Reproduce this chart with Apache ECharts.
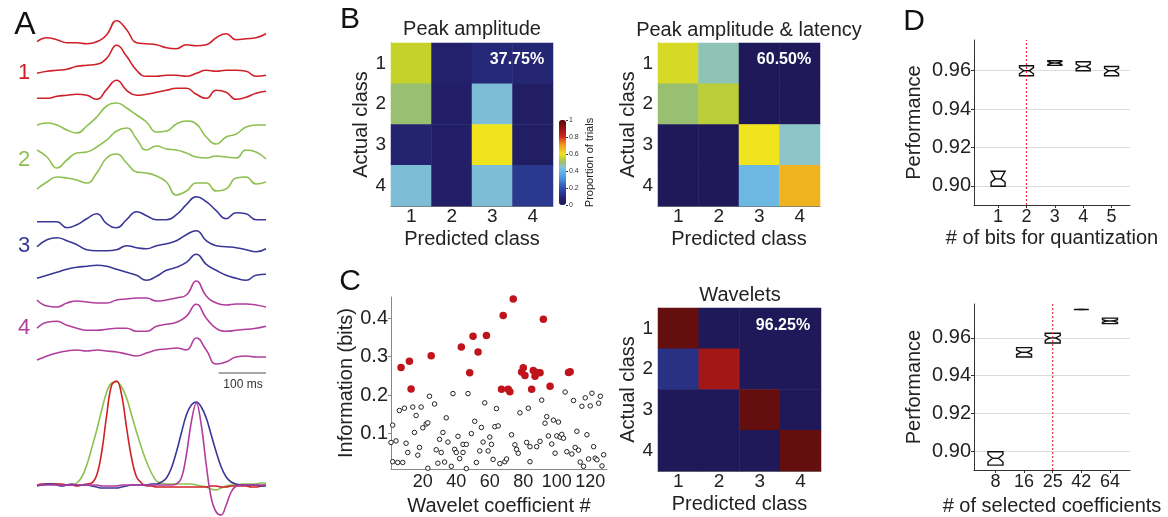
<!DOCTYPE html>
<html>
<head>
<meta charset="utf-8">
<script src="https://cdn.jsdelivr.net/npm/echarts@6/dist/echarts.min.js"></script>
<style>
html,body{margin:0;padding:0;background:#fff}
#fig{width:1168px;height:517px}
</style>
</head>
<body>
<div id="fig"></div>
<script>
// ---- A: single trials (deflection per sample) ----
var traceTimes = [0,21,42,63,84,105,126,147,168,189,210,231,252,273,294,315,336,357,378,399,420,441,462,483];
var red1   = [0,4,2,-1,-1,-2,0,7,21,12,-1,-2,-3,-6,-7,-3,-4,-3,4,8,2,3,4,8];
var red2   = [0,2,3,4,7,8,9,15,28,17,3,-3,-3,-2,-2,-3,0,3,2,3,3,2,-3,-2];
var red3   = [0,0,2,3,4,3,-1,9,18,8,3,4,6,8,10,10,4,0,8,6,-1,1,5,7];
var green1 = [0,2,0,-5,-8,-1,8,19,22,17,10,3,-7,-6,1,4,1,-12,-19,-12,-9,-2,0,0];
var green2 = [0,-7,-18,-10,-3,-2,3,10,19,22,11,0,4,1,0,-3,-7,-8,-6,-7,-8,0,-2,-9];
var green3 = [0,7,12,11,9,6,16,31,35,26,17,16,13,7,-6,-2,6,6,-2,0,11,12,5,7];
var blue1  = [0,0,0,-6,-3,3,8,-2,-6,2,10,6,2,2,7,17,25,20,11,3,9,8,2,2];
var blue2  = [0,7,9,6,2,-3,-4,-4,-3,1,-1,-2,1,3,6,12,16,6,1,0,-1,-3,-5,-2];
var blue3  = [0,3,6,9,11,12,13,12,9,6,3,-2,2,8,11,16,24,14,8,3,0,-2,3,4];
var mag1   = [0,-6,-7,-3,-1,-2,-3,-3,0,1,2,2,-1,0,2,5,19,4,-3,-5,-4,-4,-5,-7];
var mag2   = [0,6,7,3,0,-2,-2,-1,0,0,-3,-3,2,4,6,12,24,10,0,-3,-2,-1,0,2];
var mag3   = [0,4,7,9,10,9,10,9,8,6,4,7,10,11,12,10,22,10,-4,-2,3,4,3,3];

// ---- A: class averages ----
var avgTimes = [0,10.5,21,31.5,42,52.5,63,73.5,84,94.5,105,115.5,126,136.5,147,157.5,168,178.5,189,199.5,
  210,220.5,231,241.5,252,262.5,273,283.5,294,304.5,315,325.5,336,346.5,357,367.5,378,388.5,399,409.5,
  420,430.5,441,451.5,462,472.5,483];
var avgRed   = [0,1,1,1,1,1,0,0,-1,0,1, 2,10,33,70,100,104,90,57,27,8,2,
  -1,-1,-2,-2,-2,-2,-2,-2,-2,-2,-2,-2,-2,-1,-1,-2,-2,-1,-1,-1,-1,-2,-2,-1,0];
var avgGreen = [0,0,1,1,1,0,0,0, 2,8,20,37,55,75,93,102,103,98,87,70,53,37,23,12,4,2,
  1,1,1,1,1,1,0,-1,-2,-4,-5,-3,-1,0,0,1,1,1,1,2,2];
var avgBlue  = [-1,0,1,1,0,-1,0,1,0,0,0,-1,-2,-3,-3,-3,-3,-2,-1,0,0,0,0,1,
  1,3,7,17,33,52,70,80,83,78,67,50,33,18,8,3,1, 0,0,0,0,-1,-1];
var avgMag   = [0,0,0,0,0,0,0,0,0,0,0,0,0,-1,-1,-1,-1,0,0,0,0,0,0,0,0,0,0,0,
  1,7,30,63,82,60,20,-13,-27,-30,-20,-7,-1, 0,0,0,0,0,0];
var scaleBarMs = 100;

// ---- B / C: confusion matrices (rows: actual, cols: predicted) ----
var classes = ['1','2','3','4'];
var ampMatrix    = [[0.55,0.06,0.09,0.08],[0.50,0.05,0.43,0.04],[0.07,0.05,0.60,0.04],[0.43,0.05,0.43,0.14]];
var ampLatMatrix = [[0.57,0.46,0.01,0.01],[0.50,0.54,0.01,0.01],[0.01,0.01,0.60,0.45],[0.01,0.01,0.41,0.67]];
var waveMatrix   = [[0.98,0.01,0.01,0.01],[0.12,0.88,0.01,0.01],[0.01,0.01,0.98,0.01],[0.01,0.01,0.01,0.98]];
var accuracy = ['37.75%','60.50%','96.25%'];

// ---- C: information per wavelet coefficient ----
var selectedCoef = [[7,0.272],[12,0.288],[13,0.216],[25,0.302],[43,0.325],[48,0.258],[50,0.353],[53,0.312],
  [58,0.355],[67,0.215],[68,0.407],[71,0.215],[72,0.209],[74,0.45],[79,0.26],[80,0.271],[81,0.251],[85,0.215],
  [86,0.264],[87,0.249],[88,0.259],[90,0.258],[92,0.397],[96,0.223],[107,0.259],[108,0.261]];
var otherCoef = [[1,0.077],[2,0.122],[4,0.081],[2,0.027],[5,0.025],[8,0.025],[6,0.160],[9,0.166],[10,0.075],
  [11,0.051],[14,0.169],[15,0.103],[16,0.147],[17,0.044],[18,0.064],[19,0.169],[20,0.115],[22,0.125],[23,0.128],
  [23,0.01],[24,0.197],[27,0.177],[28,0.058],[29,0.023],[30,0.085],[31,0.051],[32,0.103],[33,0.026],[34,0.141],
  [35,0.078],[37,0.015],[38,0.204],[39,0.059],[40,0.051],[41,0.093],[42,0.035],[44,0.072],[44,0.051],[46,0.072],
  [46,0.009],[47,0.204],[49,0.1],[51,0.132],[52,0.025],[54,0.055],[55,0.116],[56,0.078],[57,0.180],[59,0.055],
  [61,0.072],[60,0.091],[63,0.118],[65,0.120],[64,0.165],[62,0.033],[66,0.022],[69,0.027],[70,0.034],[73,0.097],
  [75,0.071],[76,0.059],[77,0.049],[78,0.154],[82,0.077],[83,0.166],[84,0.066],[84,0.027],[88,0.066],[90,0.080],
  [91,0.187],[93,0.127],[94,0.144],[95,0.094],[97,0.073],[98,0.135],[99,0.049],[100,0.094],[101,0.130],[102,0.091],
  [103,0.098],[104,0.088],[105,0.208],[106,0.053],[109,0.047],[110,0.186],[111,0.064],[112,0.106],[113,0.057],
  [114,0.026],[115,0.171],[116,0.015],[117,0.193],[118,0.097],[119,0.034],[120,0.172],[121,0.205],[122,0.066],
  [123,0.036],[124,0.032],[125,0.179],[126,0.197],[127,0.016],[128,0.045]];

// ---- D: notched boxes [pos, q1, notchLow, median, notchHigh, q3] ----
var bitsLabels = ['1','2','3','4','5'];
var bitsBoxes = [[1,0.8998,0.9019,0.9036,0.9076,0.9076],[2,0.9574,0.9584,0.9600,0.9616,0.9626],
  [3,0.9628,0.9632,0.9640,0.9648,0.9652],[4,0.9600,0.9610,0.9622,0.9635,0.9647],[5,0.9574,0.9585,0.9600,0.9612,0.9622]];
var bitsChosen = 2;
var coefLabels = ['8','16','25','42','64'];
var coefBoxes = [[1,0.8926,0.8942,0.8962,0.8982,0.8997],[2,0.9499,0.9512,0.9524,0.9536,0.9549],
  [3,0.9573,0.9587,0.9600,0.9613,0.9625],[4,0.9751,0.9751,0.9751,0.9751,0.9751],[5,0.9676,0.9683,0.9690,0.9697,0.9705]];
var coefChosen = 3;

var FONT = 'Liberation Sans';
var classColors = ['#cf2027','#8dc04f','#3a3896','#b13d9d'];
var traceSet = [red1,red2,red3,green1,green2,green3,blue1,blue2,blue3,mag1,mag2,mag3];
var traceClass = [0,0,0,1,1,1,2,2,2,3,3,3];
var traceBase = [41.7,73.3,98.3,125,150,189,221.7,246.7,278.3,300,328.3,360];
var avgBase = 485;
var cmap = ['#1e1856','#221f68','#262a7a','#2b3c92','#3050aa','#3a6cc4','#4a8ed8','#58a4e2','#66b6ea','#8cc4c8',
  '#98c070','#c4d22a','#f0e41e','#f0c020','#f0a020','#e86a20','#d82820','#b81c1c','#961414','#741010','#5a0c0c'];

var myChart = echarts.init(document.getElementById('fig'));

function cells(m) {
  var out = [];
  for (var r = 0; r < m.length; r++) for (var c = 0; c < m[r].length; c++) out.push([c, r, m[r][c]]);
  return out;
}

function notchedBox(boxW) {
  return function (params, api) {
    var x = api.value(0);
    var c = api.coord([x, api.value(3)]);
    var yq1 = api.coord([x, api.value(1)])[1];
    var ynl = api.coord([x, api.value(2)])[1];
    var ynh = api.coord([x, api.value(4)])[1];
    var yq3 = api.coord([x, api.value(5)])[1];
    var ym = c[1];
    var l = c[0] - boxW / 2, r = c[0] + boxW / 2, d = boxW * 0.3;
    var pts = [[l,yq3],[r,yq3],[r,ynh],[r-d,ym],[r,ynl],[r,yq1],[l,yq1],[l,ynl],[l+d,ym],[l,ynh]];
    return {
      type: 'group',
      children: [
        {type: 'polygon', shape: {points: pts}, style: {fill: '#fff', stroke: '#111', lineWidth: 1.4}},
        {type: 'line', shape: {x1: l + d, y1: ym, x2: r - d, y2: ym}, style: {stroke: '#111', lineWidth: 1.4}}
      ]
    };
  };
}

var label20 = {fontSize: 20, color: '#222', fontFamily: FONT};

function heatX(gi) {
  return {
    gridIndex: gi, type: 'category', data: classes,
    axisLine: {lineStyle: {color: '#777'}},
    axisTick: {alignWithLabel: true, length: 3, lineStyle: {color: '#555'}},
    axisLabel: {fontSize: 19, color: '#222', margin: 3, lineHeight: 16},
    name: 'Predicted class', nameLocation: 'middle', nameGap: 23, nameTextStyle: label20
  };
}
function heatY(gi) {
  return {
    gridIndex: gi, type: 'category', data: classes, inverse: true,
    axisLine: {lineStyle: {color: '#777'}},
    axisTick: {alignWithLabel: true, length: 3, lineStyle: {color: '#555'}},
    axisLabel: {fontSize: 19, color: '#222', margin: 5},
    name: 'Actual class', nameLocation: 'middle', nameRotate: 90, nameGap: 16, nameTextStyle: label20
  };
}
function perfX(gi, min, max, labels, axisName, gap) {
  return {
    gridIndex: gi, type: 'value', min: min, max: max,
    axisLine: {lineStyle: {color: '#333'}},
    axisTick: {customValues: [1,2,3,4,5], length: 3, lineStyle: {color: '#333'}},
    axisLabel: {customValues: [1,2,3,4,5], fontSize: 18, color: '#222', margin: 3,
      formatter: function (v) { return labels[Math.round(v) - 1]; }},
    splitLine: {show: false},
    name: axisName, nameLocation: 'middle', nameGap: gap, nameTextStyle: label20
  };
}
function perfY(gi, max) {
  return {
    gridIndex: gi, type: 'value', min: 0.89, max: max, interval: 0.01,
    axisLine: {show: true, lineStyle: {color: '#333'}},
    axisTick: {show: true, customValues: [0.90,0.92,0.94,0.96], length: 3, lineStyle: {color: '#333'}},
    axisLabel: {customValues: [0.90,0.92,0.94,0.96], fontSize: 20, color: '#222', margin: 3,
      formatter: function (v) { return v.toFixed(2); }},
    splitLine: {show: true, lineStyle: {color: '#dcdcdc', width: 1}},
    name: 'Performance', nameLocation: 'middle', nameRotate: 90, nameGap: 50, nameTextStyle: label20
  };
}

var series = [];
// A traces
traceSet.forEach(function (tr, i) {
  series.push({
    type: 'line', xAxisIndex: 0, yAxisIndex: 0, smooth: 0.5, showSymbol: false, silent: true,
    lineStyle: {color: classColors[traceClass[i]], width: 1.6},
    data: traceTimes.map(function (t, k) { return [t, traceBase[i] - tr[k]]; })
  });
});
[[avgGreen,1],[avgRed,0],[avgBlue,2],[avgMag,3]].forEach(function (a) {
  series.push({
    type: 'line', xAxisIndex: 0, yAxisIndex: 0, smooth: 0.4, showSymbol: false, silent: true,
    lineStyle: {color: classColors[a[1]], width: 1.6},
    data: avgTimes.map(function (t, k) { return [t, avgBase - a[0][k]]; })
  });
});
series.push({
  type: 'line', xAxisIndex: 0, yAxisIndex: 0, showSymbol: false, silent: true,
  lineStyle: {color: '#8a8a8a', width: 1.5},
  data: [[483 - scaleBarMs, 373], [483, 373]]
});
// B/C heatmaps
var heatIdx = [];
[[ampMatrix,1],[ampLatMatrix,2],[waveMatrix,3]].forEach(function (h) {
  heatIdx.push(series.length);
  series.push({type: 'heatmap', xAxisIndex: h[1], yAxisIndex: h[1], data: cells(h[0]), silent: true});
});
series.push({type: 'line', xAxisIndex: 4, yAxisIndex: 4, data: []});
// C scatter
series.push({
  type: 'scatter', xAxisIndex: 5, yAxisIndex: 5, symbolSize: 4.5, silent: true,
  itemStyle: {color: '#fff', borderColor: '#222', borderWidth: 1, opacity: 1}, data: otherCoef
});
series.push({
  type: 'scatter', xAxisIndex: 5, yAxisIndex: 5, symbolSize: 7.5, silent: true,
  itemStyle: {color: '#c0141c', opacity: 1}, data: selectedCoef
});
// D
series.push({type: 'custom', xAxisIndex: 6, yAxisIndex: 6, renderItem: notchedBox(14), data: bitsBoxes,
  encode: {x: 0, y: [1, 5]}, silent: true});
series.push({
  type: 'line', xAxisIndex: 6, yAxisIndex: 6, showSymbol: false, silent: true, z: 5,
  lineStyle: {color: '#e8262e', type: [2, 2], width: 1.1}, data: [[bitsChosen, 0.89], [bitsChosen, 0.976]]
});
series.push({type: 'custom', xAxisIndex: 7, yAxisIndex: 7, renderItem: notchedBox(15), data: coefBoxes,
  encode: {x: 0, y: [1, 5]}, silent: true});
series.push({
  type: 'line', xAxisIndex: 7, yAxisIndex: 7, showSymbol: false, silent: true, z: 5,
  lineStyle: {color: '#e8262e', type: [2, 2], width: 1.1}, data: [[coefChosen, 0.89], [coefChosen, 0.978]]
});

function txt(s, x, y, size, color, extra) {
  var st = {text: s, fontSize: size, fontFamily: FONT, fill: color || '#222', align: 'center', verticalAlign: 'middle'};
  if (extra) for (var k in extra) st[k] = extra[k];
  return {type: 'text', x: x, y: y, silent: true, style: st, z: 100};
}

var option = {
  animation: false,
  backgroundColor: '#fff',
  textStyle: {fontFamily: FONT},
  grid: [
    {left: 37, top: 0, width: 229, height: 517},
    {left: 391, top: 43, width: 162, height: 163},
    {left: 658, top: 43, width: 162, height: 163},
    {left: 658, top: 308, width: 163, height: 163},
    {left: 566, top: 120, width: 1, height: 85},
    {left: 391, top: 297, width: 216, height: 173},
    {left: 974, top: 40, width: 156, height: 165},
    {left: 974, top: 304, width: 156, height: 166}
  ],
  xAxis: [
    {gridIndex: 0, type: 'value', min: 0, max: 483, show: false},
    heatX(1), heatX(2), heatX(3),
    {gridIndex: 4, type: 'value', show: false},
    {gridIndex: 5, type: 'value', min: 1, max: 130,
      axisLine: {lineStyle: {color: '#888'}},
      axisTick: {show: false},
      axisLabel: {customValues: [20,40,60,80,100,120], fontSize: 18, color: '#222', margin: 4},
      splitLine: {show: false},
      name: 'Wavelet coefficient #', nameLocation: 'middle', nameGap: 27, nameTextStyle: label20},
    perfX(6, 0.15, 5.65, bitsLabels, '# of bits for quantization', 23),
    perfX(7, 0.25, 5.7, coefLabels, '# of selected coefficients', 26)
  ],
  yAxis: [
    {gridIndex: 0, type: 'value', min: 0, max: 517, inverse: true, show: false},
    heatY(1), heatY(2), heatY(3),
    {gridIndex: 4, type: 'value', position: 'right', min: 0, max: 1, interval: 0.2,
      axisLine: {show: false},
      axisTick: {show: true, length: 2, lineStyle: {color: '#333'}},
      axisLabel: {fontSize: 7, margin: 2, color: '#333', formatter: function (v) { return String(+v.toFixed(1)); }},
      splitLine: {show: false},
      name: 'Proportion of trials', nameLocation: 'middle', nameRotate: 90, nameGap: 17,
      nameTextStyle: {fontSize: 11, color: '#222'}},
    {gridIndex: 5, type: 'value', min: 0.008, max: 0.455,
      axisLine: {show: true, lineStyle: {color: '#888'}},
      axisTick: {show: true, customValues: [0.1,0.2,0.3,0.4], length: 3, lineStyle: {color: '#888'}},
      axisLabel: {customValues: [0.1,0.2,0.3,0.4], fontSize: 20, color: '#222', margin: 3},
      splitLine: {show: false},
      name: 'Information (bits)', nameLocation: 'middle', nameRotate: 90, nameGap: 32, nameTextStyle: label20},
    perfY(6, 0.976),
    perfY(7, 0.978)
  ],
  visualMap: {
    type: 'continuous', min: 0, max: 1, seriesIndex: heatIdx, inRange: {color: cmap},
    left: 554, top: 115, itemWidth: 7, itemHeight: 85, calculable: false, hoverLink: false, padding: 5
  },
  series: series,
  graphic: [
    txt('A', 25, 25, 32, '#111'),
    txt('B', 350, 20, 30, '#111'),
    txt('C', 350, 282, 30, '#111'),
    txt('D', 914, 22, 30, '#111'),
    txt('1', 24, 73, 22, classColors[0]),
    txt('2', 24, 160, 22, classColors[1]),
    txt('3', 24, 246, 22, classColors[2]),
    txt('4', 24, 328, 22, classColors[3]),
    txt('100 ms', 243, 385, 12, '#333'),
    txt('Peak amplitude', 472, 29, 20),
    txt('Peak amplitude & latency', 749, 30, 20),
    txt('Wavelets', 740, 295, 20),
    txt(accuracy[0], 517, 60, 16, '#fff', {fontWeight: 'bold'}),
    txt(accuracy[1], 784, 60, 16, '#fff', {fontWeight: 'bold'}),
    txt(accuracy[2], 783, 326, 16, '#fff', {fontWeight: 'bold'})
  ]
};

myChart.setOption(option);
</script>
</body>
</html>
